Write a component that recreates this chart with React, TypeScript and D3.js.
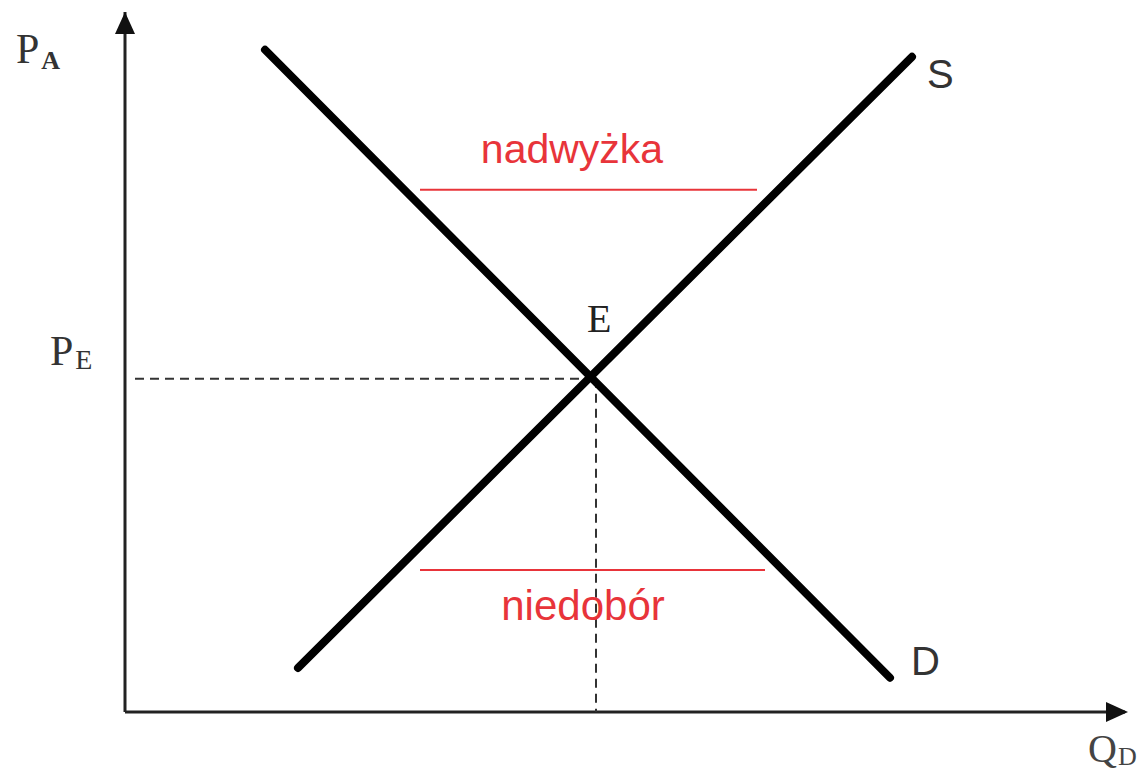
import React from "react";
import { scaleLinear, line } from "d3";

// quantity / price on a 0..100 grid
const demand = [
  { q: 14, p: 94.6 },
  { q: 76.5, p: 4.9 },
];
const supply = [
  { q: 17.3, p: 6.3 },
  { q: 78.7, p: 93.6 },
];
const equilibrium = { q: 46.9, p: 47.6 };
const surplus = { p: 74.6, q0: 29.5, q1: 63.2, label: "nadwyżka" };
const shortage = { p: 20.3, q0: 29.5, q1: 64, label: "niedobór" };
const curveLabels = ["S", "D"];
const axisLabels = { price: ["P", "A"], priceEq: ["P", "E"], qty: ["Q", "D"], eq: "E" };

const W = 1144;
const H = 777;

const x = scaleLinear().domain([0, 100]).range([125, 1125]);
const y = scaleLinear().domain([0, 100]).range([712, 12]);

const lineGen = line<{ q: number; p: number }>()
  .x((d) => x(d.q))
  .y((d) => y(d.p));

const serif = "'Liberation Serif', 'DejaVu Serif', serif";
const sans = "'Liberation Sans', Arial, sans-serif";
const red = "#e8343a";

export default function App() {
  const ex = x(equilibrium.q);
  const ey = y(equilibrium.p);
  return (
    <div style={{ position: "absolute", left: 0, top: 0, width: W, height: H, background: "#fff" }}>
      <svg width={W} height={H} style={{ display: "block" }}>
        {/* axes */}
        <path d={`M${x(0)},${y(0)} L${x(0)},${y(100)}`} stroke="#222" strokeWidth={3} />
        <path d={`M${x(0)},${y(0)} L${x(100)},${y(0)}`} stroke="#222" strokeWidth={3} />
        <path d={`M${x(0)},${y(100)} l-10,22 l20,0 Z`} fill="#111" />
        <path d={`M${x(100) + 3},${y(0)} l-22,-10 l0,20 Z`} fill="#111" />

        {/* guides to equilibrium */}
        <path d={`M${x(1)},${ey} L${ex},${ey}`} stroke="#333" strokeWidth={2} strokeDasharray="9,6" />
        <path d={`M${ex + 2},${ey} L${ex + 2},${y(0)}`} stroke="#333" strokeWidth={2} strokeDasharray="9,6" />

        {/* surplus / shortage */}
        <path d={`M${x(surplus.q0)},${y(surplus.p)} L${x(surplus.q1)},${y(surplus.p)}`} stroke={red} strokeWidth={2} />
        <path d={`M${x(shortage.q0)},${y(shortage.p)} L${x(shortage.q1)},${y(shortage.p)}`} stroke={red} strokeWidth={2} />
        <text x={572} y={163} textAnchor="middle" fill={red} fontFamily={sans} fontSize={41}>
          {surplus.label}
        </text>
        <text x={583} y={620} textAnchor="middle" fill={red} fontFamily={sans} fontSize={42}>
          {shortage.label}
        </text>

        {/* curves */}
        <path d={lineGen(demand) ?? ""} stroke="#000" strokeWidth={8} strokeLinecap="round" fill="none" />
        <path d={lineGen(supply) ?? ""} stroke="#000" strokeWidth={8} strokeLinecap="round" fill="none" />
        <text x={x(supply[1].q) + 15} y={y(supply[1].p) + 31} fill="#333" fontFamily={sans} fontSize={40}>
          {curveLabels[0]}
        </text>
        <text x={x(demand[1].q) + 21} y={y(demand[1].p) - 3} fill="#333" fontFamily={sans} fontSize={40}>
          {curveLabels[1]}
        </text>

        {/* labels */}
        <text x={ex - 7} y={ey - 47} fill="#222" fontFamily={serif} fontSize={40}>
          {axisLabels.eq}
        </text>
        <text x={16} y={63} fill="#333" fontFamily={serif} fontSize={42}>
          {axisLabels.price[0]}
          <tspan fontSize={26} fontWeight="bold" dx={2} dy={6}>{axisLabels.price[1]}</tspan>
        </text>
        <text x={50} y={365} fill="#333" fontFamily={serif} fontSize={42}>
          {axisLabels.priceEq[0]}
          <tspan fontSize={28} dx={2} dy={4}>{axisLabels.priceEq[1]}</tspan>
        </text>
        <text x={1088} y={762} fill="#444" fontFamily={serif} fontSize={40}>
          {axisLabels.qty[0]}
          <tspan fontSize={26} dx={1} dy={3}>{axisLabels.qty[1]}</tspan>
        </text>
      </svg>
    </div>
  );
}
